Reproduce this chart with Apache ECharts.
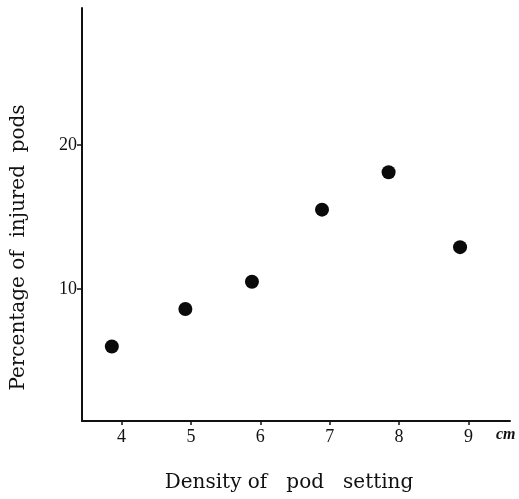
<!DOCTYPE html>
<html><head><meta charset="utf-8">
<script src="https://cdn.jsdelivr.net/npm/echarts@6/dist/echarts.min.js"></script>
<style>html,body{margin:0;padding:0;background:#fff}#c{width:519px;height:499px}</style>
</head><body><div id="c"></div>
<script>
const densityCm = [3.86, 4.92, 5.88, 6.89, 7.85, 8.88];
const injuredPct = [6.0, 8.6, 10.5, 15.5, 18.1, 12.9];
const xTicks = [4, 5, 6, 7, 8, 9];
const yTicks = [10, 20];
const xTitle = 'Density of   pod   setting';
const yTitle = 'Percentage of  injured  pods';
const xUnit = 'cm';

const chart = echarts.init(document.getElementById('c'));
const serif = 'DejaVu Serif';
const tickFont = 'Liberation Serif';
chart.setOption({
  animation: false,
  backgroundColor: '#fff',
  grid: {left: 82, top: 8, right: 9, bottom: 78},
  xAxis: {
    type: 'value', min: 3.43, max: 9.6,
    splitLine: {show: false},
    axisLine: {lineStyle: {color: '#111', width: 2}},
    axisTick: {show: true, customValues: xTicks, length: 4, lineStyle: {color: '#111', width: 1.5}},
    axisLabel: {customValues: xTicks, color: '#111', fontFamily: tickFont, fontSize: 18, margin: 7},
    name: xTitle, nameLocation: 'middle', nameGap: 52,
    nameTextStyle: {color: '#111', fontFamily: serif, fontSize: 20, padding: [0, 14, 0, 0]}
  },
  yAxis: {
    type: 'value', min: 0.83, max: 29.5,
    splitLine: {show: false},
    axisLine: {lineStyle: {color: '#111', width: 2}},
    axisTick: {show: true, customValues: yTicks, length: 5, lineStyle: {color: '#111', width: 1.5}},
    axisLabel: {customValues: yTicks, color: '#111', fontFamily: tickFont, fontSize: 18, margin: 5},
    name: yTitle, nameLocation: 'middle', nameGap: 53, nameRotate: 90,
    nameTextStyle: {color: '#111', fontFamily: serif, fontSize: 20, padding: [0, 66, 0, 0]}
  },
  graphic: [{
    type: 'text', left: 496, top: 427,
    style: {text: xUnit, fontFamily: 'Liberation Serif', fontStyle: 'italic', fontWeight: 'bold', fontSize: 16, fill: '#111'}
  }],
  series: [{
    type: 'scatter',
    data: densityCm.map((x, i) => [x, injuredPct[i]]),
    symbol: 'circle', symbolSize: 14,
    itemStyle: {color: '#0a0a0a', opacity: 1}
  }]
});
</script></body></html>
